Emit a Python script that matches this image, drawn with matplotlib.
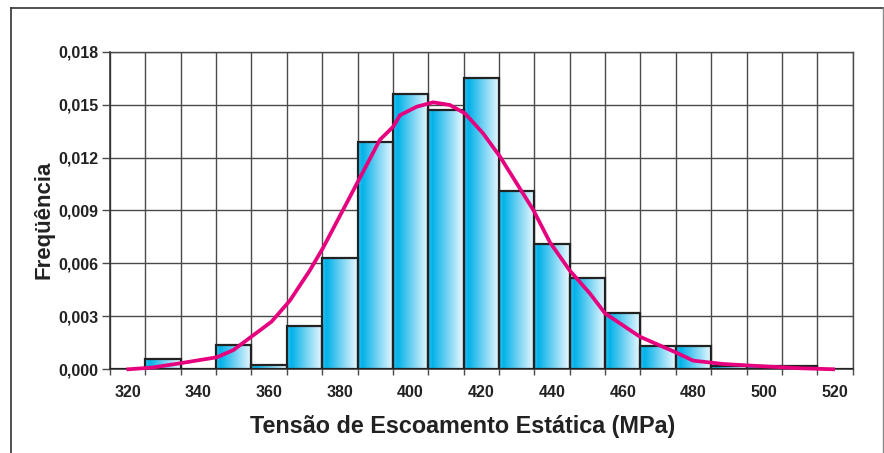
import matplotlib
matplotlib.use("Agg")
import matplotlib.pyplot as plt
from matplotlib.colors import LinearSegmentedColormap
from matplotlib.ticker import FixedLocator, FuncFormatter
from matplotlib.lines import Line2D
import numpy as np

plt.rcParams["font.family"] = ["Liberation Sans", "DejaVu Sans"]
plt.rcParams["font.weight"] = "bold"

# ── histogram: class centres (MPa) and relative frequency density ─────────
bin_centers = [320, 330, 340, 350, 360, 370, 380, 390, 400, 410, 420,
               430, 440, 450, 460, 470, 480, 490, 500, 510, 520]
frequency = [0.0, 0.0006, 0.0, 0.00135, 0.00025, 0.00245, 0.0063, 0.0129,
             0.0156, 0.0147, 0.0165, 0.0101, 0.0071, 0.0052, 0.0032,
             0.0013, 0.0013, 0.0002, 0.0002, 0.0002, 0.0]
BIN_W = 10

# fitted density curve (polyline through the fitted points)
curve_x = [320.2, 327.0, 334.8, 345.2, 349.9, 360.7, 365.9, 371.5, 375.3,
           382.4, 391.3, 395.1, 397.0, 401.7, 406.4, 411.1, 415.4, 420.5,
           425.3, 430.0, 434.7, 439.4, 445.0, 450.7, 455.0, 464.8, 475.2,
           479.9, 488.4, 497.8, 510.0, 519.5]
curve_y = [0.0, 0.0001, 0.00034, 0.00068, 0.00109, 0.0027, 0.0039, 0.0056,
           0.0069, 0.0096, 0.0130, 0.01375, 0.0144, 0.01488, 0.01513,
           0.01498, 0.0145, 0.01337, 0.01205, 0.01054, 0.00903, 0.0072,
           0.0056, 0.0043, 0.00317, 0.00185, 0.00094, 0.00049, 0.0003,
           0.00019, 0.00006, 0.0]

x_labels = [320, 340, 360, 380, 400, 420, 440, 460, 480, 500, 520]
y_ticks = [0.0, 0.003, 0.006, 0.009, 0.012, 0.015, 0.018]

GRID = "#4a4a4a"
EDGE = "#222222"
MAGENTA = "#E6007E"
TEXT = "#222222"
bar_cmap = LinearSegmentedColormap.from_list(
    "bar_grad", [(0.0, "#3cc3ef"), (0.12, "#00b2e9"), (0.45, "#5ccbf1"),
                 (1.0, "#eef9fe")])

fig = plt.figure(figsize=(8.84, 4.53), dpi=100, facecolor="white")
ax = fig.add_axes([0.1244, 0.1848, 0.8401, 0.7011])

x_lo = bin_centers[0] - BIN_W / 2
x_hi = bin_centers[-1] + BIN_W / 2

# grid at every class boundary and every y tick
edges = np.arange(x_lo, x_hi + 1, BIN_W)
ax.xaxis.set_minor_locator(FixedLocator(edges))
ax.xaxis.set_major_locator(FixedLocator(x_labels))
ax.set_yticks(y_ticks)
ax.yaxis.set_major_formatter(FuncFormatter(lambda v, p: f"{v:.3f}".replace(".", ",")))
ax.grid(which="minor", axis="x", color=GRID, lw=1.0, zorder=0)
ax.grid(which="major", axis="y", color=GRID, lw=1.0, zorder=0)
ax.set_axisbelow(True)

ax.tick_params(axis="x", which="major", length=0, pad=11, labelsize=11.5,
               labelcolor=TEXT)
ax.tick_params(axis="x", which="minor", length=4, width=1, color=GRID)
ax.tick_params(axis="y", length=6, width=1, color=GRID, pad=2,
               labelsize=11.5, labelcolor=TEXT)

for side in ("top", "right"):
    ax.spines[side].set_color(GRID)
    ax.spines[side].set_linewidth(1.0)
for side in ("left", "bottom"):
    ax.spines[side].set_color("#333333")
    ax.spines[side].set_linewidth(1.2)

# bars: outline from the data, gradient fill clipped to each bar
bars = ax.bar(bin_centers, frequency, width=BIN_W, fill=False,
              edgecolor=EDGE, linewidth=1.6, zorder=3)
grad = np.linspace(0, 1, 256).reshape(1, -1)
for b in bars:
    h = b.get_height()
    if h <= 0:
        continue
    x0 = b.get_x()
    ax.imshow(grad, cmap=bar_cmap, aspect="auto", zorder=2,
              extent=[x0, x0 + b.get_width(), 0, h], interpolation="bilinear")
ax.set_xlim(x_lo, x_hi)
ax.set_ylim(0, 0.018)

ax.plot(curve_x, curve_y, color=MAGENTA, lw=2.7, zorder=4,
        solid_joinstyle="round", clip_on=False)

ax.set_xlabel("Tensão de Escoamento Estática (MPa)", fontsize=16.8,
              fontweight="bold", color=TEXT)
ax.xaxis.label.set_va("baseline")
ax.xaxis.set_label_coords(0.4746, -0.2006)
ax.set_ylabel("Freqüência", fontsize=16, fontweight="bold", color=TEXT)
ax.yaxis.label.set_va("baseline")
ax.yaxis.set_label_coords(-0.0808, 0.4717)

# outer frame
fig.add_artist(Line2D([11 / 884, 11 / 884], [0, 1 - 8 / 453],
                      color="#333333", lw=1.2, transform=fig.transFigure))
fig.add_artist(Line2D([11 / 884, 883 / 884], [1 - 8 / 453, 1 - 8 / 453],
                      color="#333333", lw=1.2, transform=fig.transFigure))
fig.add_artist(Line2D([882.5 / 884, 882.5 / 884], [0, 1 - 8 / 453],
                      color="#888888", lw=1.0, transform=fig.transFigure))

fig.savefig("out.png", dpi=100, facecolor="white")
